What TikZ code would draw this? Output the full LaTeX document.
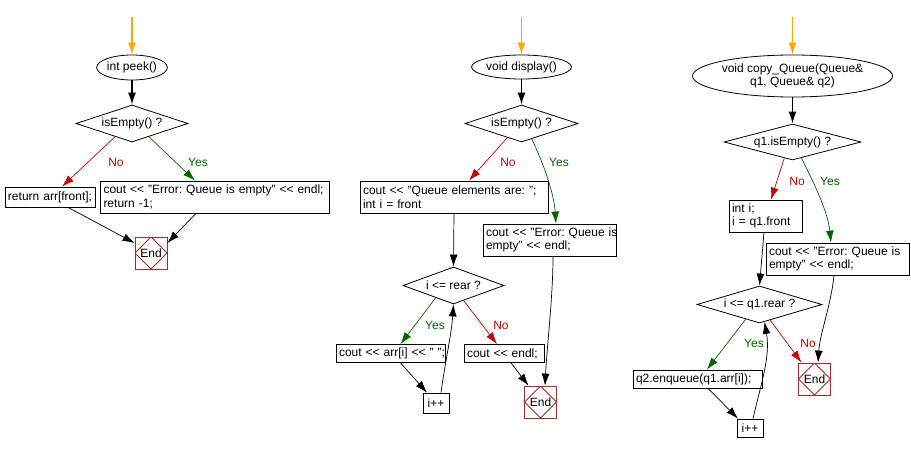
\documentclass[tikz,border=0pt]{standalone}
\usepackage{fontspec}
\setmainfont{Liberation Sans}
\usetikzlibrary{shapes.geometric,arrows.meta,calc}
\definecolor{startor}{HTML}{FFA500}
\definecolor{nored}{HTML}{CC0000}
\definecolor{yesgreen}{HTML}{006600}
\definecolor{endred}{HTML}{A52A2A}
\frenchspacing
\begin{document}
\begin{tikzpicture}[x=1pt,y=-1pt,
  every node/.style={font=\fontsize{12}{13.5}\selectfont},
  box/.style={draw, rectangle, inner xsep=3pt, inner ysep=0pt, align=left, line width=0.8pt},
  smallbox/.style={draw, rectangle, inner sep=0pt, align=center, line width=0.8pt, minimum width=26pt},
  startnode/.style={draw, ellipse, inner sep=0pt, line width=0.8pt, align=center},
  decision/.style={draw, diamond, inner sep=0pt, line width=0.8pt},
  endnode/.style={draw=endred, rectangle, minimum size=32pt, inner sep=0pt, line width=0.8pt,
    path picture={\draw[endred, line width=0.8pt] (path picture bounding box.north) -- (path picture bounding box.east) -- (path picture bounding box.south) -- (path picture bounding box.west) -- cycle;}},
  arr/.style={-{Latex[length=12pt,width=8pt]}, line width=0.7pt},
  startarr/.style={arr, draw=startor, line width=1.5pt},
  thickarr/.style={arr, line width=1.5pt},
  noarr/.style={arr, draw=nored},
  yesarr/.style={arr, draw=yesgreen},
  nolab/.style={text=nored},
  yeslab/.style={text=yesgreen}]
\useasboundingbox (0,0) rectangle (911,452);

% ---------- peek ----------
\coordinate (s1) at (132,17);
\node[startnode, minimum width=67pt, minimum height=25pt] (e1) at (132,67.5) {int peek()};
\node[decision, aspect=3.03, minimum width=112pt, minimum height=37pt] (d1) at (132,123.5) {isEmpty() ?};
\node[box, text width=84pt, minimum height=20pt] (rA) at (50,197) {\mbox{return arr[front];}};
\node[box, text width=223pt, minimum height=32pt] (rB) at (215,197) {\mbox{cout <{}< "Error: Queue is empty" <{}< endl;}\\\mbox{return -1;}};
\node[endnode] (end1) at (151,253) {End};
\node[nolab] (no1) at (116,162) {No};
\node[yeslab] (yes1) at (198,162) {Yes};

\draw[startarr] (s1) -- (e1);
\draw[thickarr] (e1) -- (d1);
\draw[noarr] ($(d1.south)!0.3!(d1.west)$) -- ([xshift=12pt]rA.north);
\draw[yesarr] ($(d1.south)!0.3!(d1.east)$) -- ([xshift=-20pt]rB.north);
\draw[arr] ([xshift=18pt]rA.south) -- ([yshift=10pt]end1.west);
\draw[arr] ([xshift=-19pt]rB.south) -- ([yshift=10pt]end1.east);

% ---------- display ----------
\coordinate (s2) at (521.5,17);
\node[startnode, minimum width=89pt, minimum height=24pt] (e2) at (521.5,67) {void display()};
\node[decision, aspect=3.05, minimum width=113pt, minimum height=37pt] (d2) at (521.5,123.5) {isEmpty() ?};
\node[box, text width=182pt, minimum height=32pt] (m1) at (454,197) {\mbox{cout <{}< "Queue elements are: ";}\\\mbox{int i = front}};
\node[box, text width=127pt, minimum height=32pt] (m2) at (549.5,240) {\mbox{cout <{}< "Error: Queue is}\\\mbox{empty" <{}< endl;}};
\node[decision, aspect=2.73, minimum width=101pt, minimum height=37pt] (d3) at (453.5,285.5) {i <= rear ?};
\node[box, text width=103pt, minimum height=18pt] (m3) at (390.5,353.5) {\mbox{cout <{}< arr[i] <{}< " ";}};
\node[box, text width=74pt, minimum height=18pt] (m4) at (504,353.5) {\mbox{cout <{}< endl;}};
\node[smallbox, minimum height=20pt] (m5) at (436,403) {i++};
\node[endnode] (end2) at (540.5,402) {End};
\node[nolab] (no2) at (508,162) {No};
\node[yeslab] (yes2) at (559,162) {Yes};
\node[yeslab] (yes3) at (435,325) {Yes};
\node[nolab] (no3) at (501,325) {No};

\draw[startarr] (s2) -- (e2);
\draw[thickarr] (e2) -- (d2);
\draw[noarr] ($(d2.south)!0.25!(d2.west)$) -- ([xshift=15pt]m1.north);
\draw[yesarr] ($(d2.south)!0.18!(d2.east)$) .. controls +(12,25) and +(-2,-30) .. ([xshift=6.5pt]m2.north);
\draw[arr] (m1.south) -- (d3.north);
\draw[yesarr] ($(d3.south)!0.35!(d3.west)$) -- ([xshift=10pt]m3.north);
\draw[noarr] ($(d3.south)!0.2!(d3.east)$) -- ([xshift=-7pt]m4.north);
\draw[arr] ([xshift=10pt]m3.south) -- ([xshift=-9pt]m5.north);
\draw[arr] ([xshift=5pt]m5.north) .. controls +(4,-30) and +(-2,30) .. (d3.south);
\draw[arr] ([xshift=7pt]m4.south) -- ([xshift=-12pt]end2.north);
\draw[arr] ([xshift=3.5pt]m2.south) .. controls +(0,40) and +(2,-40) .. ([xshift=4.5pt]end2.north);

% ---------- copy_Queue ----------
\coordinate (s3) at (792.5,17);
\node[startnode, minimum width=167pt, minimum height=42pt] (e3) at (792.5,76) {void copy\_Queue(Queue\&\\q1, Queue\& q2)};
\node[decision, aspect=3.8, minimum width=137pt, minimum height=36pt] (d4) at (792.5,142) {q1.isEmpty() ?};
\node[box, text width=67pt, minimum height=32pt] (r1) at (765.5,216) {\mbox{int i;}\\\mbox{i = q1.front}};
\node[box, text width=137pt, minimum height=32pt] (r2) at (837.5,259) {\mbox{cout <{}< "Error: Queue is}\\\mbox{empty" <{}< endl;}};
\node[decision, aspect=3.38, minimum width=125pt, minimum height=37pt] (d5) at (759.5,304.5) {i <= q1.rear ?};
\node[box, text width=123pt, minimum height=18pt] (r3) at (697.5,379) {\mbox{q2.enqueue(q1.arr[i]);}};
\node[smallbox, minimum height=18pt] (r4) at (750,428) {i++};
\node[endnode] (end3) at (814.5,379) {End};
\node[nolab] (no4) at (797,181) {No};
\node[yeslab] (yes4) at (830,181) {Yes};
\node[yeslab] (yes5) at (754,343) {Yes};
\node[nolab] (no5) at (808,343) {No};

\draw[startarr] (s3) -- (e3);
\draw[thickarr] (e3) -- (d4);
\draw[noarr] ($(d4.south)!0.12!(d4.west)$) -- ([xshift=5.5pt]r1.north);
\draw[yesarr] ($(d4.south)!0.13!(d4.east)$) .. controls +(14,28) and +(-3,-30) .. ([xshift=-6.5pt]r2.north);
\draw[arr] ([xshift=-1.5pt]r1.south) -- (d5.north);
\draw[yesarr] ($(d5.south)!0.22!(d5.west)$) -- ([xshift=9.5pt]r3.north);
\draw[noarr] ($(d5.south)!0.17!(d5.east)$) -- ([xshift=-13pt]end3.north);
\draw[arr] ([xshift=10.5pt]r3.south) -- ([xshift=-12pt]r4.north);
\draw[arr] ([xshift=3pt]r4.north) .. controls +(8,-35) and +(6,35) .. ($(d5.south)!0.08!(d5.east)$);
\draw[arr] ([xshift=-3.5pt]r2.south) .. controls +(-3,30) and +(2,-30) .. ([xshift=3.5pt]end3.north);
\end{tikzpicture}
\end{document}
